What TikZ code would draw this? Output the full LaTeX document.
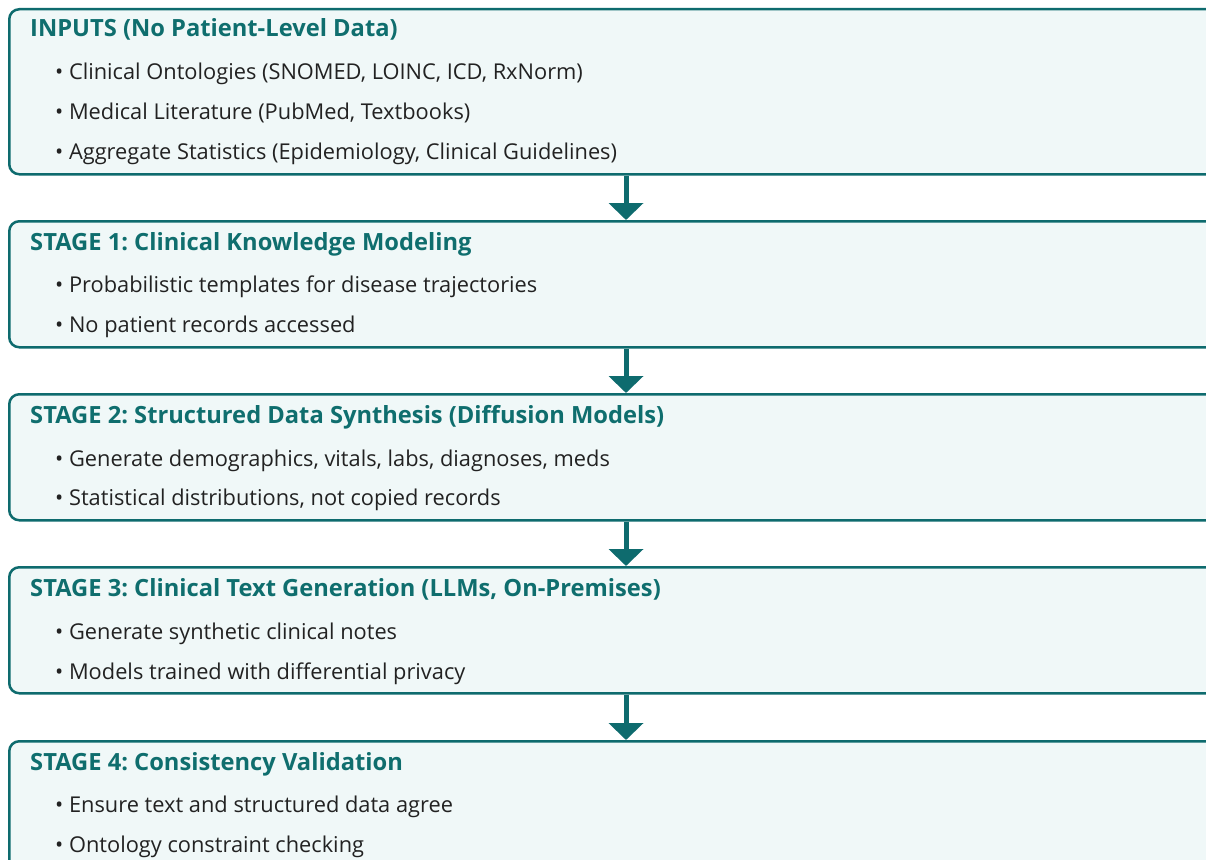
\documentclass[tikz,border=0pt]{standalone}
\usepackage{fontspec}
\setmainfont{Open Sans}
\usetikzlibrary{arrows.meta,positioning}

\definecolor{stageline}{HTML}{0E6B6E}
\definecolor{stagefill}{HTML}{F0F8F8}
\definecolor{stagetext}{HTML}{0F6E6E}
\definecolor{itemtext}{HTML}{222222}

\tikzset{
  stagebox/.style={draw=stageline, line width=2.5pt, fill=stagefill,
    rounded corners=10pt, anchor=north west, minimum width=1212pt, inner sep=0pt},
  stagetitle/.style={anchor=base west, text=stagetext, inner sep=0pt,
    font=\frenchspacing\bfseries\fontsize{23.7}{27}\selectfont},
  item/.style={anchor=base west, text=itemtext, inner sep=0pt,
    font=\frenchspacing\fontsize{21.8}{26}\selectfont},
  flow/.style={draw=stageline, line width=5pt, -{Triangle[width=34pt,length=17pt]}},
}

\begin{document}
\begin{tikzpicture}[x=1pt,y=-1pt]
  \clip (0,0) rectangle (1206,859);
  \fill[white] (0,0) rectangle (1206,859);

  % boxes
  \node[stagebox, minimum height=165pt] (inputs) at (8,8) {};
  \node[stagebox, minimum height=126pt] (stage1) at (8,220) {};
  \node[stagebox, minimum height=126pt] (stage2) at (8,393) {};
  \node[stagebox, minimum height=126pt] (stage3) at (8,566) {};
  \node[stagebox, minimum height=150pt] (stage4) at (8,740) {};

  % arrows between the boxes
  \coordinate (ax) at (626,0);
  \draw[flow] (inputs.south -| ax) -- (stage1.north -| ax);
  \draw[flow] (stage1.south -| ax) -- (stage2.north -| ax);
  \draw[flow] (stage2.south -| ax) -- (stage3.north -| ax);
  \draw[flow] (stage3.south -| ax) -- (stage4.north -| ax);

  % inputs
  \node[stagetitle] (inputs-t) at (30,37) {INPUTS (No Patient-Level Data)};
  \node[item] (inputs-a) at (55,79) {\textbullet~Clinical Ontologies (SNOMED, LOINC, ICD, RxNorm)};
  \node[item] (inputs-b) at (55,119) {\textbullet~Medical Literature (PubMed, Textbooks)};
  \node[item] (inputs-c) at (55,159) {\textbullet~Aggregate Statistics (Epidemiology, Clinical Guidelines)};

  % stage 1
  \node[stagetitle] (stage1-t) at (30,250) {STAGE 1: Clinical Knowledge Modeling};
  \node[item] (stage1-a) at (55,292) {\textbullet~Probabilistic templates for disease trajectories};
  \node[item] (stage1-b) at (55,332) {\textbullet~No patient records accessed};

  % stage 2
  \node[stagetitle] (stage2-t) at (30,423) {STAGE 2: Structured Data Synthesis (Diffusion Models)};
  \node[item] (stage2-a) at (55,466) {\textbullet~Generate demographics, vitals, labs, diagnoses, meds};
  \node[item] (stage2-b) at (55,505) {\textbullet~Statistical distributions, not copied records};

  % stage 3
  \node[stagetitle] (stage3-t) at (30,596) {STAGE 3: Clinical Text Generation (LLMs, On-Premises)};
  \node[item] (stage3-a) at (55,639) {\textbullet~Generate synthetic clinical notes};
  \node[item] (stage3-b) at (55,679) {\textbullet~Models trained with differential privacy};

  % stage 4
  \node[stagetitle] (stage4-t) at (30,770) {STAGE 4: Consistency Validation};
  \node[item] (stage4-a) at (55,812) {\textbullet~Ensure text and structured data agree};
  \node[item] (stage4-b) at (55,852) {\textbullet~Ontology constraint checking};
\end{tikzpicture}
\end{document}
